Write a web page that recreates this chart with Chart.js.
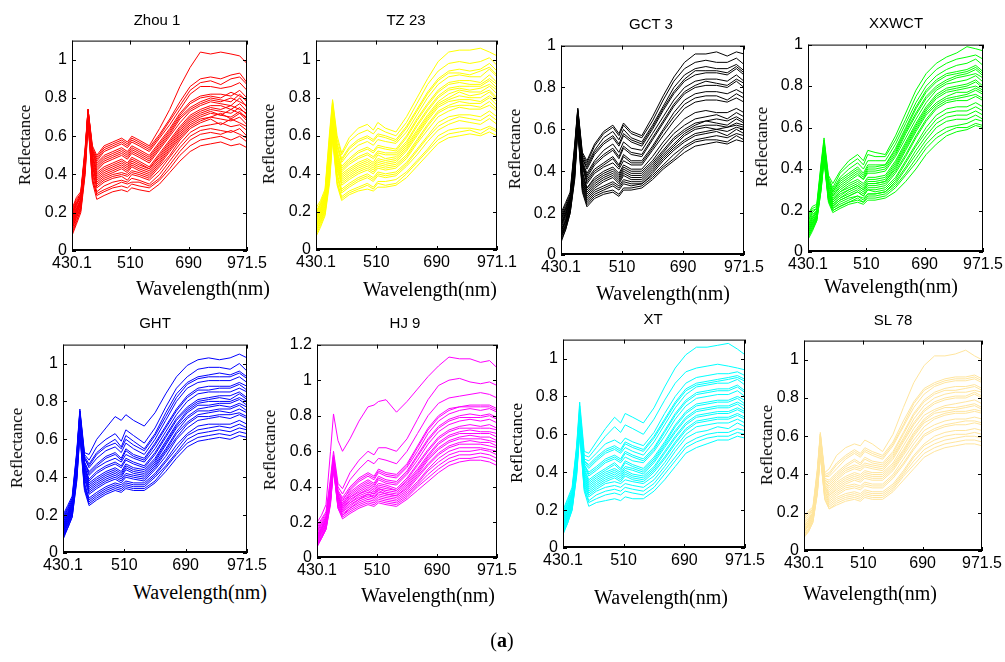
<!DOCTYPE html>
<html>
<head>
<meta charset="utf-8">
<script src="https://cdn.jsdelivr.net/npm/chart.js@4.4.1/dist/chart.umd.min.js"></script>
<style>
  body { margin: 0; background: #fff; width: 1005px; height: 662px; position: relative; overflow: hidden; }
  canvas { position: absolute; }
  .lbl { position: absolute; white-space: nowrap; transform: translate(-50%, -50%); color: #000; }
  .ttl { font-family: 'Liberation Sans', Arial, sans-serif; font-size: 15px; }
  .xl { font-family: 'Liberation Serif', 'Times New Roman', serif; font-size: 20px; }
  .yl { font-family: 'Liberation Serif', 'Times New Roman', serif; font-size: 17px; transform: translate(-50%, -50%) rotate(-90deg); }
  .cap { font-family: 'Liberation Serif', serif; font-size: 20px; }
</style>
</head>
<body>
<script>
// band positions of the sampled points (axis runs 0..120, ticks every 40 bands)
const bandPos = [0, 3, 6, 9, 11, 14, 17, 22, 28, 34, 38, 41, 46, 53, 60, 67, 74, 81, 88, 95, 102, 109, 115, 120];
const xTickVals = [0, 40, 80, 120];
const xLabelsA = ['430.1', '510', '690', '971.5'];
const xLabelsB = ['430.1', '510', '690', '971.1'];
const yTicks1 = [0, 0.2, 0.4, 0.6, 0.8, 1];
const yTicks2 = [0, 0.2, 0.4, 0.6, 0.8, 1, 1.2];
const names = ['Zhou 1', 'TZ 23', 'GCT 3', 'XXWCT', 'GHT', 'HJ 9', 'XT', 'SL 78'];
const yMax = [1.1, 1.1, 1, 1, 1.1, 1.2, 1.1, 1.1];

const zhou1 = [
  [0.08,0.14,0.2,0.4,0.66,0.36,0.27,0.29,0.31,0.32,0.31,0.33,0.32,0.31,0.35,0.41,0.47,0.52,0.55,0.56,0.57,0.55,0.56,0.54],
  [0.10,0.16,0.21,0.42,0.67,0.38,0.29,0.31,0.33,0.34,0.33,0.35,0.34,0.33,0.37,0.43,0.5,0.55,0.58,0.59,0.6,0.58,0.6,0.57],
  [0.09,0.15,0.22,0.41,0.67,0.37,0.3,0.32,0.34,0.36,0.35,0.36,0.36,0.34,0.38,0.45,0.52,0.58,0.61,0.62,0.61,0.63,0.61,0.59],
  [0.12,0.17,0.23,0.43,0.68,0.4,0.31,0.34,0.36,0.37,0.36,0.38,0.37,0.35,0.4,0.47,0.54,0.6,0.63,0.64,0.63,0.62,0.64,0.6],
  [0.11,0.18,0.22,0.44,0.7,0.42,0.33,0.36,0.38,0.39,0.37,0.4,0.39,0.37,0.42,0.49,0.56,0.62,0.65,0.66,0.67,0.65,0.66,0.63],
  [0.12,0.18,0.23,0.44,0.69,0.41,0.34,0.37,0.39,0.4,0.39,0.41,0.4,0.38,0.44,0.5,0.58,0.64,0.67,0.69,0.66,0.69,0.67,0.65],
  [0.13,0.19,0.24,0.45,0.7,0.44,0.35,0.38,0.4,0.41,0.4,0.42,0.41,0.39,0.45,0.52,0.59,0.65,0.68,0.7,0.69,0.68,0.7,0.66],
  [0.14,0.19,0.25,0.45,0.71,0.44,0.36,0.39,0.41,0.43,0.41,0.44,0.42,0.4,0.46,0.53,0.6,0.66,0.69,0.7,0.72,0.69,0.72,0.68],
  [0.14,0.2,0.25,0.46,0.71,0.45,0.37,0.4,0.42,0.44,0.42,0.45,0.43,0.41,0.47,0.54,0.61,0.67,0.7,0.72,0.71,0.7,0.73,0.69],
  [0.15,0.2,0.25,0.47,0.71,0.46,0.38,0.41,0.43,0.45,0.43,0.46,0.44,0.42,0.48,0.55,0.62,0.68,0.71,0.73,0.71,0.74,0.72,0.7],
  [0.15,0.21,0.26,0.47,0.72,0.47,0.39,0.42,0.44,0.46,0.44,0.47,0.45,0.43,0.49,0.56,0.63,0.69,0.72,0.74,0.73,0.72,0.75,0.71],
  [0.16,0.21,0.27,0.48,0.72,0.49,0.4,0.43,0.45,0.47,0.45,0.48,0.46,0.43,0.5,0.57,0.64,0.7,0.73,0.75,0.74,0.76,0.74,0.72],
  [0.16,0.22,0.26,0.48,0.72,0.48,0.41,0.44,0.46,0.48,0.46,0.49,0.47,0.44,0.51,0.58,0.65,0.71,0.74,0.76,0.76,0.74,0.77,0.73],
  [0.17,0.23,0.27,0.49,0.73,0.5,0.42,0.46,0.48,0.5,0.48,0.51,0.49,0.46,0.53,0.6,0.67,0.73,0.76,0.78,0.77,0.76,0.8,0.75],
  [0.17,0.22,0.27,0.49,0.73,0.49,0.43,0.47,0.49,0.51,0.49,0.52,0.5,0.47,0.54,0.61,0.69,0.74,0.77,0.79,0.78,0.8,0.78,0.76],
  [0.18,0.24,0.28,0.5,0.73,0.51,0.44,0.48,0.5,0.52,0.5,0.53,0.51,0.48,0.55,0.62,0.7,0.75,0.78,0.8,0.79,0.78,0.82,0.78],
  [0.19,0.24,0.29,0.51,0.73,0.52,0.45,0.49,0.51,0.53,0.51,0.54,0.52,0.49,0.56,0.63,0.71,0.77,0.8,0.81,0.8,0.83,0.81,0.79],
  [0.19,0.25,0.29,0.51,0.74,0.52,0.46,0.5,0.52,0.54,0.52,0.55,0.53,0.5,0.57,0.64,0.72,0.78,0.81,0.82,0.82,0.81,0.84,0.8],
  [0.2,0.26,0.3,0.52,0.74,0.53,0.47,0.52,0.54,0.56,0.54,0.57,0.55,0.52,0.59,0.66,0.74,0.82,0.86,0.86,0.85,0.86,0.88,0.84],
  [0.2,0.25,0.29,0.52,0.74,0.53,0.48,0.53,0.55,0.57,0.55,0.58,0.56,0.53,0.6,0.68,0.76,0.84,0.88,0.89,0.87,0.9,0.91,0.87],
  [0.21,0.27,0.3,0.53,0.74,0.54,0.49,0.54,0.56,0.58,0.56,0.59,0.57,0.54,0.61,0.69,0.78,0.86,0.9,0.91,0.9,0.92,0.93,0.88],
  [0.22,0.28,0.31,0.54,0.74,0.55,0.5,0.55,0.57,0.59,0.57,0.6,0.58,0.55,0.64,0.74,0.86,0.96,1.04,1.03,1.04,1.03,1.02,0.98]
];
const tz23 = [
  [0.07,0.12,0.18,0.35,0.58,0.34,0.26,0.29,0.31,0.32,0.31,0.33,0.33,0.34,0.38,0.44,0.5,0.56,0.59,0.6,0.61,0.6,0.62,0.6],
  [0.08,0.13,0.19,0.37,0.59,0.35,0.27,0.3,0.32,0.34,0.32,0.35,0.34,0.35,0.4,0.46,0.52,0.58,0.61,0.62,0.63,0.61,0.64,0.62],
  [0.09,0.14,0.2,0.38,0.6,0.36,0.28,0.31,0.33,0.35,0.33,0.36,0.36,0.37,0.41,0.47,0.53,0.6,0.63,0.64,0.64,0.63,0.65,0.63],
  [0.1,0.15,0.21,0.4,0.62,0.38,0.3,0.33,0.36,0.38,0.36,0.39,0.38,0.39,0.44,0.5,0.57,0.63,0.66,0.68,0.67,0.66,0.69,0.66],
  [0.1,0.15,0.21,0.41,0.63,0.39,0.31,0.34,0.37,0.39,0.37,0.4,0.39,0.4,0.45,0.52,0.59,0.65,0.68,0.7,0.69,0.68,0.71,0.68],
  [0.11,0.16,0.22,0.42,0.64,0.4,0.32,0.35,0.38,0.4,0.38,0.41,0.4,0.41,0.46,0.53,0.6,0.67,0.7,0.71,0.71,0.7,0.73,0.7],
  [0.12,0.17,0.23,0.44,0.66,0.42,0.34,0.37,0.4,0.42,0.4,0.43,0.42,0.43,0.48,0.56,0.63,0.7,0.73,0.75,0.74,0.74,0.76,0.73],
  [0.12,0.17,0.23,0.45,0.67,0.43,0.35,0.38,0.41,0.43,0.41,0.44,0.43,0.44,0.49,0.57,0.65,0.72,0.75,0.76,0.76,0.75,0.78,0.74],
  [0.13,0.18,0.24,0.46,0.68,0.44,0.36,0.39,0.42,0.44,0.42,0.45,0.44,0.45,0.5,0.58,0.66,0.73,0.76,0.78,0.77,0.77,0.8,0.76],
  [0.13,0.18,0.25,0.47,0.69,0.45,0.37,0.4,0.43,0.45,0.43,0.46,0.45,0.46,0.52,0.6,0.68,0.75,0.78,0.79,0.79,0.78,0.81,0.78],
  [0.14,0.19,0.25,0.48,0.7,0.46,0.38,0.41,0.44,0.46,0.44,0.47,0.46,0.47,0.53,0.61,0.69,0.76,0.79,0.81,0.8,0.8,0.83,0.79],
  [0.15,0.2,0.26,0.49,0.71,0.47,0.39,0.42,0.45,0.47,0.45,0.48,0.47,0.48,0.54,0.62,0.7,0.77,0.8,0.83,0.81,0.82,0.84,0.8],
  [0.15,0.2,0.26,0.5,0.72,0.48,0.4,0.43,0.46,0.48,0.46,0.5,0.48,0.49,0.55,0.63,0.71,0.78,0.82,0.84,0.83,0.83,0.86,0.82],
  [0.16,0.21,0.27,0.51,0.73,0.49,0.41,0.45,0.48,0.5,0.48,0.51,0.5,0.5,0.56,0.65,0.73,0.8,0.84,0.85,0.84,0.85,0.87,0.84],
  [0.16,0.21,0.27,0.52,0.74,0.5,0.42,0.46,0.49,0.51,0.49,0.52,0.51,0.51,0.57,0.66,0.74,0.81,0.85,0.86,0.86,0.86,0.89,0.85],
  [0.17,0.22,0.28,0.53,0.74,0.51,0.43,0.47,0.51,0.53,0.51,0.54,0.53,0.52,0.59,0.68,0.76,0.83,0.87,0.88,0.87,0.87,0.9,0.87],
  [0.17,0.22,0.28,0.54,0.75,0.52,0.44,0.48,0.52,0.54,0.52,0.55,0.54,0.53,0.6,0.69,0.77,0.84,0.88,0.89,0.89,0.88,0.92,0.88],
  [0.18,0.23,0.29,0.56,0.76,0.54,0.46,0.51,0.55,0.57,0.55,0.58,0.57,0.56,0.62,0.71,0.8,0.87,0.91,0.92,0.91,0.91,0.95,0.91],
  [0.19,0.24,0.3,0.57,0.76,0.55,0.47,0.53,0.57,0.59,0.57,0.6,0.59,0.57,0.64,0.73,0.82,0.89,0.93,0.93,0.92,0.94,0.96,0.92],
  [0.19,0.24,0.3,0.58,0.77,0.56,0.48,0.54,0.58,0.6,0.58,0.61,0.6,0.58,0.65,0.74,0.83,0.9,0.94,0.95,0.94,0.95,0.98,0.94],
  [0.2,0.25,0.31,0.6,0.78,0.58,0.5,0.57,0.61,0.63,0.61,0.64,0.62,0.6,0.67,0.77,0.87,0.94,0.98,0.99,0.98,0.99,1.01,0.97],
  [0.22,0.26,0.32,0.62,0.79,0.6,0.51,0.59,0.64,0.66,0.63,0.67,0.64,0.62,0.7,0.8,0.9,0.99,1.04,1.05,1.05,1.06,1.04,1.02]
];
const gct3 = [
  [0.06,0.12,0.2,0.36,0.6,0.3,0.23,0.27,0.29,0.3,0.28,0.31,0.31,0.32,0.36,0.41,0.45,0.49,0.52,0.53,0.54,0.53,0.55,0.54],
  [0.07,0.12,0.2,0.37,0.6,0.31,0.24,0.28,0.3,0.31,0.29,0.32,0.32,0.33,0.37,0.42,0.46,0.51,0.54,0.55,0.55,0.54,0.57,0.55],
  [0.08,0.13,0.21,0.38,0.61,0.32,0.25,0.29,0.31,0.33,0.31,0.34,0.33,0.34,0.38,0.43,0.48,0.52,0.55,0.56,0.57,0.56,0.58,0.57],
  [0.09,0.13,0.21,0.39,0.62,0.33,0.26,0.3,0.32,0.34,0.32,0.35,0.34,0.34,0.39,0.45,0.5,0.54,0.57,0.58,0.59,0.57,0.6,0.58],
  [0.09,0.14,0.22,0.4,0.62,0.34,0.27,0.31,0.33,0.35,0.33,0.36,0.35,0.35,0.4,0.46,0.51,0.55,0.58,0.59,0.6,0.59,0.61,0.6],
  [0.1,0.14,0.22,0.41,0.63,0.35,0.28,0.32,0.35,0.37,0.34,0.38,0.36,0.36,0.41,0.47,0.52,0.57,0.6,0.61,0.6,0.61,0.62,0.61],
  [0.1,0.15,0.23,0.42,0.63,0.36,0.29,0.33,0.36,0.38,0.35,0.39,0.37,0.37,0.42,0.48,0.53,0.58,0.61,0.62,0.62,0.61,0.63,0.62],
  [0.11,0.16,0.23,0.43,0.64,0.37,0.3,0.34,0.37,0.39,0.36,0.4,0.38,0.38,0.43,0.49,0.55,0.59,0.62,0.64,0.63,0.62,0.65,0.63],
  [0.11,0.16,0.24,0.43,0.64,0.38,0.31,0.35,0.38,0.4,0.37,0.41,0.39,0.39,0.44,0.5,0.56,0.6,0.63,0.64,0.65,0.64,0.66,0.64],
  [0.12,0.16,0.24,0.44,0.65,0.39,0.32,0.36,0.39,0.41,0.38,0.42,0.4,0.4,0.45,0.52,0.58,0.62,0.65,0.66,0.67,0.65,0.68,0.66],
  [0.12,0.17,0.24,0.45,0.65,0.4,0.32,0.37,0.4,0.42,0.39,0.43,0.41,0.41,0.47,0.54,0.6,0.65,0.68,0.69,0.68,0.68,0.7,0.68],
  [0.13,0.18,0.25,0.46,0.66,0.42,0.34,0.39,0.42,0.44,0.41,0.45,0.43,0.43,0.5,0.57,0.64,0.7,0.73,0.74,0.74,0.73,0.75,0.73],
  [0.14,0.19,0.25,0.47,0.67,0.43,0.35,0.4,0.43,0.46,0.42,0.47,0.44,0.44,0.51,0.59,0.66,0.72,0.75,0.76,0.76,0.74,0.77,0.75],
  [0.14,0.19,0.26,0.47,0.67,0.43,0.36,0.41,0.44,0.47,0.43,0.48,0.45,0.45,0.52,0.6,0.68,0.74,0.77,0.78,0.78,0.77,0.79,0.77],
  [0.15,0.2,0.26,0.48,0.68,0.44,0.37,0.43,0.47,0.5,0.46,0.51,0.48,0.47,0.55,0.63,0.71,0.77,0.8,0.81,0.81,0.8,0.83,0.8],
  [0.15,0.2,0.26,0.48,0.68,0.44,0.38,0.44,0.48,0.51,0.47,0.52,0.49,0.48,0.56,0.64,0.72,0.78,0.81,0.83,0.82,0.81,0.84,0.82],
  [0.16,0.21,0.27,0.49,0.68,0.45,0.39,0.45,0.5,0.53,0.49,0.54,0.51,0.5,0.58,0.66,0.74,0.8,0.83,0.84,0.84,0.83,0.86,0.83],
  [0.17,0.22,0.28,0.5,0.69,0.46,0.41,0.48,0.53,0.56,0.52,0.57,0.54,0.52,0.6,0.69,0.77,0.83,0.86,0.87,0.87,0.86,0.89,0.86],
  [0.17,0.22,0.27,0.5,0.69,0.46,0.42,0.49,0.54,0.57,0.53,0.58,0.55,0.53,0.61,0.7,0.78,0.84,0.88,0.88,0.88,0.87,0.9,0.87],
  [0.18,0.23,0.28,0.51,0.69,0.47,0.43,0.5,0.56,0.59,0.55,0.6,0.56,0.54,0.62,0.71,0.8,0.86,0.89,0.9,0.89,0.89,0.91,0.88],
  [0.19,0.24,0.29,0.52,0.7,0.48,0.44,0.52,0.58,0.61,0.57,0.62,0.58,0.56,0.64,0.74,0.83,0.89,0.92,0.93,0.92,0.92,0.94,0.91],
  [0.2,0.25,0.3,0.53,0.7,0.49,0.45,0.53,0.59,0.62,0.58,0.63,0.59,0.57,0.66,0.76,0.85,0.92,0.96,0.96,0.97,0.95,0.97,0.96]
];
const xxwct = [
  [0.06,0.1,0.15,0.3,0.44,0.24,0.19,0.21,0.23,0.24,0.23,0.25,0.25,0.26,0.29,0.34,0.4,0.47,0.52,0.56,0.58,0.59,0.61,0.6],
  [0.07,0.11,0.15,0.3,0.45,0.25,0.2,0.22,0.24,0.25,0.24,0.26,0.26,0.27,0.31,0.37,0.43,0.5,0.55,0.58,0.6,0.6,0.62,0.61],
  [0.07,0.11,0.16,0.31,0.45,0.25,0.2,0.22,0.24,0.26,0.24,0.27,0.27,0.28,0.32,0.38,0.45,0.52,0.57,0.6,0.61,0.62,0.64,0.63],
  [0.08,0.12,0.16,0.32,0.46,0.26,0.21,0.23,0.25,0.27,0.25,0.28,0.28,0.29,0.33,0.4,0.47,0.54,0.6,0.63,0.64,0.64,0.66,0.64],
  [0.08,0.12,0.16,0.32,0.46,0.26,0.21,0.24,0.26,0.27,0.26,0.28,0.28,0.29,0.34,0.41,0.49,0.56,0.62,0.65,0.66,0.66,0.68,0.66],
  [0.09,0.13,0.17,0.33,0.47,0.27,0.22,0.25,0.27,0.29,0.27,0.3,0.29,0.3,0.35,0.43,0.51,0.58,0.64,0.67,0.68,0.68,0.7,0.68],
  [0.09,0.13,0.17,0.33,0.47,0.27,0.22,0.25,0.27,0.29,0.27,0.3,0.3,0.31,0.36,0.44,0.52,0.6,0.66,0.69,0.7,0.7,0.72,0.7],
  [0.1,0.14,0.17,0.34,0.48,0.28,0.23,0.26,0.28,0.3,0.28,0.31,0.31,0.32,0.38,0.46,0.55,0.63,0.69,0.72,0.73,0.73,0.75,0.73],
  [0.1,0.14,0.17,0.34,0.48,0.28,0.23,0.26,0.29,0.31,0.29,0.32,0.32,0.33,0.39,0.47,0.56,0.64,0.7,0.73,0.74,0.75,0.76,0.74],
  [0.1,0.14,0.18,0.35,0.49,0.29,0.24,0.27,0.3,0.32,0.3,0.33,0.33,0.34,0.4,0.49,0.58,0.66,0.71,0.74,0.75,0.76,0.78,0.76],
  [0.11,0.15,0.18,0.35,0.49,0.29,0.24,0.28,0.3,0.32,0.3,0.33,0.33,0.34,0.41,0.5,0.59,0.67,0.72,0.75,0.77,0.77,0.79,0.77],
  [0.11,0.15,0.18,0.36,0.5,0.3,0.25,0.29,0.31,0.33,0.31,0.34,0.34,0.35,0.42,0.51,0.6,0.68,0.74,0.77,0.78,0.79,0.8,0.78],
  [0.12,0.16,0.19,0.36,0.5,0.3,0.25,0.29,0.32,0.34,0.32,0.35,0.35,0.36,0.43,0.52,0.61,0.69,0.75,0.78,0.79,0.8,0.82,0.79],
  [0.12,0.16,0.19,0.37,0.5,0.31,0.26,0.3,0.33,0.35,0.33,0.36,0.36,0.37,0.44,0.53,0.62,0.7,0.76,0.79,0.8,0.81,0.83,0.8],
  [0.13,0.17,0.19,0.38,0.51,0.32,0.27,0.31,0.34,0.37,0.35,0.38,0.38,0.39,0.46,0.55,0.64,0.72,0.78,0.81,0.82,0.83,0.85,0.82],
  [0.13,0.17,0.2,0.38,0.51,0.32,0.27,0.32,0.35,0.38,0.35,0.39,0.39,0.4,0.47,0.57,0.66,0.74,0.79,0.82,0.84,0.85,0.86,0.84],
  [0.14,0.18,0.2,0.39,0.52,0.33,0.28,0.33,0.36,0.39,0.36,0.4,0.4,0.41,0.48,0.58,0.67,0.75,0.8,0.83,0.85,0.86,0.88,0.85],
  [0.15,0.19,0.21,0.4,0.52,0.34,0.29,0.34,0.37,0.4,0.37,0.41,0.41,0.42,0.49,0.59,0.69,0.77,0.82,0.85,0.86,0.87,0.89,0.86],
  [0.15,0.19,0.21,0.4,0.53,0.34,0.29,0.35,0.38,0.41,0.38,0.42,0.42,0.42,0.5,0.6,0.7,0.78,0.83,0.86,0.87,0.88,0.9,0.87],
  [0.16,0.2,0.21,0.41,0.53,0.35,0.3,0.36,0.4,0.43,0.4,0.44,0.44,0.44,0.52,0.62,0.72,0.8,0.85,0.88,0.9,0.91,0.93,0.9],
  [0.17,0.21,0.22,0.42,0.54,0.36,0.31,0.38,0.42,0.45,0.42,0.47,0.46,0.46,0.54,0.64,0.75,0.83,0.88,0.91,0.93,0.94,0.95,0.93],
  [0.18,0.22,0.23,0.43,0.55,0.37,0.33,0.39,0.44,0.47,0.44,0.49,0.48,0.47,0.56,0.67,0.78,0.86,0.91,0.94,0.96,0.99,0.98,0.97]
];
const ght = [
  [0.07,0.13,0.19,0.38,0.62,0.33,0.25,0.28,0.31,0.33,0.32,0.34,0.33,0.33,0.37,0.43,0.5,0.56,0.59,0.6,0.61,0.6,0.62,0.61],
  [0.08,0.13,0.19,0.39,0.63,0.34,0.26,0.29,0.32,0.34,0.33,0.35,0.34,0.34,0.38,0.45,0.52,0.58,0.61,0.62,0.63,0.62,0.64,0.63],
  [0.08,0.14,0.2,0.4,0.64,0.35,0.27,0.3,0.33,0.35,0.34,0.36,0.35,0.35,0.4,0.46,0.53,0.6,0.63,0.64,0.65,0.64,0.66,0.65],
  [0.09,0.15,0.21,0.41,0.65,0.36,0.28,0.31,0.34,0.36,0.35,0.37,0.36,0.36,0.41,0.48,0.55,0.62,0.65,0.66,0.67,0.66,0.68,0.66],
  [0.09,0.15,0.21,0.42,0.66,0.37,0.29,0.32,0.35,0.37,0.36,0.38,0.37,0.37,0.42,0.49,0.57,0.63,0.67,0.68,0.68,0.68,0.7,0.68],
  [0.1,0.16,0.22,0.44,0.67,0.39,0.31,0.34,0.37,0.39,0.37,0.4,0.39,0.38,0.44,0.51,0.6,0.66,0.7,0.71,0.72,0.71,0.73,0.71],
  [0.11,0.16,0.22,0.44,0.67,0.4,0.32,0.35,0.38,0.4,0.38,0.41,0.4,0.39,0.45,0.53,0.61,0.68,0.72,0.72,0.73,0.73,0.74,0.72],
  [0.11,0.17,0.23,0.45,0.68,0.41,0.33,0.36,0.39,0.41,0.39,0.42,0.41,0.4,0.46,0.54,0.63,0.69,0.73,0.74,0.75,0.74,0.76,0.74],
  [0.12,0.17,0.23,0.45,0.68,0.42,0.34,0.37,0.4,0.42,0.4,0.44,0.42,0.41,0.47,0.55,0.64,0.71,0.75,0.75,0.76,0.76,0.78,0.75],
  [0.12,0.18,0.24,0.46,0.69,0.43,0.35,0.38,0.41,0.43,0.41,0.45,0.43,0.42,0.48,0.57,0.66,0.72,0.76,0.77,0.78,0.77,0.79,0.77],
  [0.13,0.18,0.24,0.47,0.7,0.44,0.36,0.39,0.42,0.44,0.42,0.46,0.44,0.43,0.49,0.58,0.67,0.74,0.78,0.78,0.79,0.79,0.81,0.78],
  [0.13,0.19,0.25,0.47,0.7,0.45,0.37,0.4,0.43,0.45,0.43,0.47,0.45,0.44,0.5,0.59,0.68,0.75,0.79,0.8,0.8,0.8,0.82,0.8],
  [0.14,0.19,0.25,0.48,0.71,0.46,0.38,0.42,0.45,0.47,0.45,0.49,0.47,0.45,0.52,0.61,0.7,0.76,0.8,0.81,0.82,0.81,0.84,0.81],
  [0.14,0.2,0.25,0.48,0.71,0.46,0.39,0.43,0.46,0.48,0.46,0.5,0.48,0.46,0.53,0.62,0.71,0.77,0.81,0.82,0.83,0.83,0.85,0.82],
  [0.15,0.2,0.26,0.49,0.72,0.47,0.41,0.45,0.48,0.5,0.48,0.52,0.5,0.48,0.55,0.64,0.73,0.8,0.84,0.85,0.85,0.85,0.87,0.85],
  [0.16,0.21,0.26,0.5,0.72,0.48,0.42,0.46,0.5,0.52,0.49,0.54,0.51,0.49,0.57,0.66,0.75,0.82,0.86,0.86,0.87,0.87,0.89,0.86],
  [0.16,0.21,0.27,0.5,0.73,0.48,0.43,0.47,0.51,0.53,0.5,0.55,0.52,0.5,0.58,0.67,0.76,0.83,0.87,0.88,0.88,0.88,0.9,0.88],
  [0.17,0.22,0.27,0.51,0.74,0.5,0.45,0.5,0.54,0.56,0.53,0.58,0.55,0.52,0.6,0.7,0.8,0.87,0.9,0.91,0.91,0.91,0.93,0.9],
  [0.18,0.23,0.28,0.52,0.74,0.5,0.46,0.52,0.56,0.58,0.55,0.6,0.57,0.54,0.62,0.72,0.82,0.89,0.92,0.93,0.93,0.93,0.95,0.92],
  [0.18,0.23,0.28,0.52,0.75,0.51,0.47,0.53,0.57,0.6,0.56,0.62,0.59,0.55,0.63,0.74,0.84,0.9,0.93,0.94,0.95,0.94,0.96,0.93],
  [0.19,0.24,0.29,0.53,0.75,0.52,0.49,0.56,0.6,0.63,0.59,0.65,0.62,0.58,0.66,0.77,0.87,0.93,0.97,0.98,0.98,0.97,1.0,0.96],
  [0.2,0.25,0.3,0.54,0.76,0.53,0.52,0.6,0.66,0.72,0.7,0.73,0.7,0.67,0.74,0.84,0.93,0.99,1.02,1.03,1.02,1.03,1.05,1.03]
];
const hj9 = [
  [0.06,0.11,0.16,0.3,0.5,0.28,0.22,0.25,0.28,0.3,0.29,0.31,0.3,0.29,0.33,0.38,0.43,0.48,0.52,0.54,0.55,0.55,0.54,0.52],
  [0.07,0.11,0.16,0.31,0.5,0.28,0.23,0.26,0.29,0.31,0.3,0.32,0.31,0.3,0.34,0.4,0.45,0.5,0.54,0.56,0.56,0.57,0.56,0.54],
  [0.07,0.12,0.17,0.32,0.51,0.29,0.24,0.27,0.3,0.32,0.31,0.33,0.32,0.31,0.35,0.41,0.47,0.52,0.56,0.58,0.58,0.59,0.58,0.56],
  [0.08,0.12,0.17,0.32,0.51,0.29,0.24,0.28,0.31,0.33,0.32,0.34,0.33,0.32,0.36,0.42,0.49,0.54,0.58,0.6,0.6,0.61,0.6,0.58],
  [0.08,0.13,0.18,0.33,0.52,0.3,0.25,0.28,0.32,0.34,0.33,0.35,0.34,0.33,0.37,0.43,0.5,0.56,0.6,0.62,0.62,0.62,0.61,0.6],
  [0.09,0.14,0.18,0.34,0.53,0.31,0.26,0.29,0.33,0.35,0.34,0.36,0.35,0.34,0.38,0.45,0.52,0.58,0.62,0.64,0.64,0.64,0.63,0.62],
  [0.09,0.14,0.19,0.34,0.53,0.31,0.26,0.3,0.33,0.36,0.34,0.37,0.36,0.35,0.39,0.46,0.53,0.59,0.63,0.65,0.66,0.65,0.65,0.63],
  [0.1,0.15,0.19,0.35,0.54,0.32,0.27,0.31,0.34,0.36,0.35,0.38,0.36,0.35,0.4,0.47,0.55,0.61,0.65,0.67,0.67,0.67,0.66,0.65],
  [0.1,0.15,0.19,0.35,0.54,0.32,0.27,0.31,0.35,0.37,0.36,0.39,0.37,0.36,0.41,0.48,0.56,0.62,0.66,0.68,0.69,0.68,0.68,0.66],
  [0.11,0.16,0.2,0.36,0.55,0.33,0.28,0.32,0.36,0.38,0.36,0.39,0.38,0.37,0.42,0.49,0.57,0.64,0.68,0.7,0.7,0.7,0.7,0.68],
  [0.11,0.16,0.2,0.36,0.55,0.33,0.28,0.33,0.36,0.39,0.37,0.4,0.39,0.38,0.43,0.5,0.58,0.65,0.69,0.71,0.72,0.71,0.71,0.7],
  [0.12,0.16,0.21,0.37,0.55,0.34,0.29,0.34,0.37,0.4,0.38,0.41,0.4,0.38,0.44,0.52,0.6,0.67,0.71,0.73,0.73,0.73,0.73,0.72],
  [0.12,0.17,0.21,0.37,0.55,0.34,0.29,0.34,0.38,0.41,0.39,0.42,0.41,0.39,0.45,0.53,0.61,0.68,0.72,0.74,0.75,0.74,0.75,0.73],
  [0.13,0.17,0.22,0.38,0.56,0.35,0.3,0.35,0.39,0.42,0.4,0.44,0.42,0.41,0.47,0.55,0.64,0.71,0.75,0.77,0.78,0.77,0.78,0.76],
  [0.13,0.17,0.22,0.38,0.56,0.35,0.3,0.36,0.4,0.43,0.41,0.45,0.43,0.42,0.48,0.57,0.66,0.73,0.77,0.79,0.79,0.79,0.8,0.78],
  [0.14,0.18,0.22,0.39,0.56,0.36,0.31,0.37,0.41,0.44,0.42,0.46,0.44,0.43,0.49,0.58,0.67,0.74,0.78,0.8,0.81,0.8,0.81,0.79],
  [0.15,0.19,0.23,0.4,0.57,0.37,0.32,0.39,0.44,0.47,0.45,0.49,0.47,0.46,0.52,0.62,0.72,0.79,0.83,0.85,0.85,0.85,0.85,0.83],
  [0.15,0.19,0.23,0.4,0.57,0.37,0.33,0.38,0.43,0.46,0.44,0.48,0.46,0.45,0.51,0.6,0.7,0.77,0.81,0.83,0.84,0.83,0.84,0.82],
  [0.16,0.2,0.24,0.41,0.57,0.38,0.34,0.4,0.45,0.48,0.46,0.5,0.48,0.47,0.53,0.63,0.73,0.8,0.84,0.85,0.86,0.86,0.86,0.84],
  [0.17,0.21,0.25,0.43,0.58,0.4,0.36,0.44,0.5,0.55,0.53,0.56,0.55,0.53,0.6,0.7,0.8,0.87,0.9,0.91,0.92,0.93,0.92,0.9],
  [0.18,0.22,0.26,0.45,0.6,0.42,0.39,0.48,0.55,0.6,0.58,0.62,0.62,0.6,0.67,0.78,0.89,0.97,1.0,1.01,0.99,0.98,0.99,0.97],
  [0.2,0.24,0.3,0.6,0.81,0.66,0.6,0.67,0.77,0.85,0.86,0.88,0.89,0.82,0.88,0.95,1.02,1.08,1.13,1.12,1.12,1.1,1.11,1.07]
];
const xt = [
  [0.07,0.13,0.2,0.38,0.6,0.3,0.22,0.24,0.25,0.26,0.25,0.27,0.26,0.26,0.3,0.36,0.43,0.5,0.53,0.55,0.57,0.57,0.59,0.58],
  [0.08,0.13,0.2,0.39,0.61,0.31,0.24,0.26,0.28,0.29,0.28,0.3,0.29,0.28,0.32,0.39,0.46,0.53,0.56,0.58,0.59,0.59,0.61,0.6],
  [0.08,0.14,0.21,0.4,0.62,0.32,0.25,0.28,0.3,0.31,0.3,0.32,0.31,0.3,0.34,0.41,0.48,0.55,0.58,0.6,0.61,0.61,0.63,0.62],
  [0.09,0.15,0.22,0.41,0.63,0.33,0.27,0.3,0.32,0.33,0.32,0.34,0.33,0.32,0.36,0.43,0.51,0.58,0.61,0.62,0.64,0.63,0.66,0.64],
  [0.09,0.15,0.22,0.42,0.64,0.34,0.28,0.31,0.34,0.35,0.34,0.36,0.35,0.34,0.38,0.45,0.53,0.6,0.64,0.65,0.66,0.66,0.68,0.66],
  [0.1,0.16,0.23,0.43,0.65,0.35,0.29,0.32,0.35,0.37,0.35,0.38,0.36,0.35,0.4,0.47,0.55,0.62,0.66,0.67,0.68,0.68,0.7,0.68],
  [0.1,0.16,0.23,0.44,0.65,0.36,0.3,0.33,0.36,0.38,0.36,0.39,0.37,0.36,0.41,0.48,0.56,0.63,0.67,0.68,0.69,0.69,0.71,0.69],
  [0.11,0.17,0.24,0.45,0.66,0.37,0.31,0.34,0.37,0.39,0.37,0.4,0.38,0.37,0.42,0.5,0.58,0.65,0.69,0.7,0.71,0.71,0.73,0.71],
  [0.11,0.17,0.24,0.45,0.66,0.38,0.32,0.35,0.38,0.4,0.38,0.41,0.39,0.38,0.43,0.51,0.59,0.66,0.7,0.71,0.72,0.72,0.74,0.72],
  [0.12,0.18,0.25,0.46,0.67,0.39,0.33,0.36,0.39,0.41,0.39,0.42,0.41,0.39,0.45,0.53,0.61,0.68,0.72,0.73,0.74,0.74,0.76,0.73],
  [0.12,0.18,0.25,0.46,0.67,0.4,0.34,0.37,0.4,0.42,0.4,0.43,0.42,0.4,0.46,0.54,0.62,0.69,0.73,0.74,0.75,0.75,0.77,0.75],
  [0.13,0.19,0.26,0.47,0.68,0.41,0.35,0.38,0.41,0.44,0.41,0.45,0.43,0.41,0.47,0.55,0.64,0.71,0.75,0.76,0.77,0.77,0.79,0.76],
  [0.13,0.19,0.26,0.47,0.68,0.42,0.36,0.39,0.42,0.45,0.42,0.46,0.44,0.42,0.48,0.56,0.65,0.72,0.76,0.77,0.78,0.78,0.8,0.78],
  [0.14,0.2,0.27,0.48,0.69,0.43,0.38,0.41,0.45,0.47,0.45,0.48,0.46,0.45,0.51,0.59,0.68,0.75,0.79,0.8,0.81,0.81,0.83,0.8],
  [0.15,0.21,0.27,0.49,0.7,0.44,0.39,0.42,0.46,0.48,0.46,0.5,0.48,0.46,0.52,0.61,0.7,0.77,0.81,0.82,0.83,0.83,0.85,0.82],
  [0.15,0.21,0.27,0.49,0.7,0.44,0.4,0.43,0.47,0.49,0.47,0.51,0.49,0.47,0.53,0.62,0.71,0.78,0.82,0.83,0.84,0.84,0.86,0.83],
  [0.16,0.22,0.28,0.5,0.71,0.45,0.42,0.46,0.5,0.52,0.5,0.53,0.51,0.49,0.56,0.65,0.74,0.81,0.85,0.86,0.87,0.87,0.89,0.86],
  [0.17,0.23,0.29,0.51,0.72,0.46,0.43,0.47,0.51,0.53,0.51,0.55,0.53,0.51,0.58,0.67,0.76,0.83,0.86,0.87,0.88,0.89,0.9,0.88],
  [0.17,0.23,0.29,0.51,0.72,0.46,0.44,0.48,0.52,0.54,0.52,0.56,0.54,0.52,0.59,0.68,0.77,0.84,0.87,0.88,0.89,0.9,0.91,0.89],
  [0.18,0.24,0.3,0.52,0.73,0.47,0.46,0.5,0.55,0.57,0.55,0.58,0.56,0.54,0.61,0.71,0.8,0.87,0.9,0.91,0.92,0.92,0.93,0.91],
  [0.19,0.25,0.31,0.53,0.75,0.49,0.48,0.53,0.59,0.64,0.61,0.65,0.63,0.6,0.68,0.78,0.87,0.93,0.95,0.96,0.97,0.96,0.95,0.94],
  [0.2,0.26,0.32,0.54,0.77,0.51,0.5,0.56,0.63,0.69,0.66,0.71,0.69,0.66,0.74,0.85,0.95,1.02,1.06,1.06,1.07,1.08,1.05,1.02]
];
const sl78 = [
  [0.07,0.1,0.15,0.3,0.5,0.27,0.22,0.24,0.26,0.27,0.26,0.28,0.27,0.27,0.31,0.37,0.43,0.49,0.52,0.54,0.55,0.56,0.56,0.55],
  [0.08,0.1,0.15,0.3,0.5,0.27,0.22,0.25,0.27,0.28,0.27,0.29,0.28,0.28,0.32,0.39,0.45,0.51,0.54,0.56,0.57,0.58,0.58,0.57],
  [0.08,0.11,0.16,0.31,0.51,0.28,0.23,0.26,0.28,0.29,0.28,0.3,0.29,0.29,0.33,0.4,0.47,0.53,0.56,0.58,0.59,0.6,0.6,0.59],
  [0.09,0.11,0.16,0.31,0.51,0.29,0.24,0.27,0.29,0.3,0.29,0.31,0.3,0.3,0.34,0.41,0.49,0.55,0.58,0.6,0.61,0.61,0.62,0.61],
  [0.09,0.12,0.17,0.32,0.52,0.3,0.25,0.28,0.3,0.31,0.3,0.32,0.31,0.31,0.35,0.42,0.5,0.56,0.6,0.62,0.63,0.63,0.64,0.63],
  [0.1,0.13,0.17,0.33,0.53,0.31,0.26,0.29,0.32,0.33,0.32,0.34,0.33,0.33,0.38,0.45,0.53,0.6,0.63,0.65,0.66,0.66,0.67,0.66],
  [0.1,0.13,0.17,0.33,0.53,0.31,0.27,0.3,0.33,0.34,0.33,0.35,0.34,0.34,0.39,0.46,0.54,0.61,0.64,0.66,0.67,0.68,0.68,0.67],
  [0.1,0.14,0.18,0.34,0.54,0.32,0.28,0.31,0.34,0.35,0.34,0.36,0.35,0.35,0.4,0.48,0.56,0.63,0.66,0.68,0.69,0.69,0.7,0.69],
  [0.11,0.14,0.18,0.35,0.55,0.33,0.29,0.32,0.35,0.37,0.36,0.38,0.37,0.37,0.42,0.5,0.58,0.65,0.69,0.71,0.72,0.72,0.73,0.72],
  [0.11,0.14,0.18,0.35,0.55,0.33,0.29,0.33,0.36,0.38,0.37,0.39,0.38,0.38,0.43,0.51,0.6,0.67,0.7,0.72,0.73,0.73,0.74,0.73],
  [0.12,0.15,0.19,0.36,0.56,0.34,0.3,0.34,0.37,0.39,0.38,0.4,0.39,0.39,0.44,0.52,0.61,0.68,0.72,0.73,0.74,0.75,0.76,0.74],
  [0.12,0.15,0.19,0.36,0.56,0.34,0.31,0.35,0.38,0.4,0.39,0.41,0.4,0.4,0.45,0.53,0.62,0.69,0.73,0.75,0.75,0.76,0.77,0.75],
  [0.13,0.16,0.19,0.37,0.57,0.35,0.32,0.36,0.39,0.41,0.4,0.42,0.41,0.41,0.46,0.55,0.64,0.71,0.74,0.76,0.77,0.78,0.79,0.77],
  [0.14,0.16,0.2,0.38,0.58,0.36,0.33,0.37,0.41,0.43,0.42,0.44,0.43,0.42,0.48,0.57,0.66,0.73,0.77,0.79,0.8,0.8,0.82,0.8],
  [0.13,0.16,0.2,0.38,0.58,0.36,0.34,0.38,0.42,0.44,0.43,0.45,0.44,0.43,0.49,0.58,0.67,0.74,0.78,0.8,0.81,0.81,0.83,0.81],
  [0.15,0.17,0.2,0.39,0.59,0.37,0.35,0.39,0.43,0.45,0.44,0.46,0.45,0.44,0.5,0.59,0.69,0.76,0.8,0.82,0.83,0.83,0.84,0.83],
  [0.15,0.17,0.2,0.39,0.59,0.37,0.36,0.4,0.44,0.47,0.45,0.48,0.46,0.45,0.51,0.61,0.71,0.78,0.82,0.84,0.84,0.85,0.86,0.84],
  [0.16,0.18,0.21,0.4,0.6,0.38,0.37,0.41,0.45,0.48,0.46,0.49,0.47,0.46,0.52,0.62,0.72,0.79,0.83,0.85,0.86,0.86,0.87,0.85],
  [0.17,0.19,0.22,0.41,0.61,0.39,0.39,0.43,0.48,0.51,0.49,0.52,0.5,0.48,0.55,0.65,0.75,0.82,0.86,0.88,0.89,0.89,0.9,0.88],
  [0.17,0.19,0.22,0.41,0.61,0.39,0.4,0.45,0.49,0.52,0.5,0.53,0.51,0.49,0.56,0.66,0.77,0.84,0.87,0.89,0.9,0.9,0.91,0.89],
  [0.18,0.2,0.22,0.42,0.61,0.4,0.41,0.46,0.5,0.53,0.51,0.54,0.52,0.5,0.57,0.68,0.78,0.85,0.88,0.9,0.91,0.91,0.92,0.9],
  [0.18,0.21,0.23,0.43,0.62,0.41,0.43,0.5,0.54,0.56,0.55,0.58,0.56,0.52,0.61,0.75,0.88,0.97,1.02,1.02,1.03,1.05,1.02,1.0]
];

const curves = [zhou1, tz23, gct3, xxwct, ght, hj9, xt, sl78];
const xLabels = [xLabelsA, xLabelsB, xLabelsA, xLabelsA, xLabelsA, xLabelsA, xLabelsA, xLabelsA];
const yTicks = [yTicks1, yTicks1, yTicks1, yTicks1, yTicks1, yTicks2, yTicks1, yTicks1];
const colors = ['#ff0000', '#ffff00', '#000000', '#00ff00', '#0000ff', '#ff00ff', '#00ffff', '#ffe59e'];

// plot boxes and label spots in page pixels
const layout = [
  { l: 72,  t: 38,  r: 247, b: 251, title: [157, 19],  yl: 25,  xl: [203, 288] },
  { l: 316, t: 38,  r: 497, b: 250, title: [406, 19],  yl: 269, xl: [430, 289] },
  { l: 561, t: 43,  r: 744, b: 255, title: [651, 23],  yl: 515, xl: [663, 293] },
  { l: 808, t: 42,  r: 983, b: 252, title: [896, 22],  yl: 762, xl: [891, 286] },
  { l: 63,  t: 342, r: 247, b: 553, title: [155, 322], yl: 17,  xl: [200, 592] },
  { l: 317, t: 342, r: 497, b: 558, title: [405, 322], yl: 270, xl: [428, 595] },
  { l: 563, t: 337, r: 745, b: 548, title: [653, 318], yl: 517, xl: [661, 597] },
  { l: 804, t: 338, r: 982, b: 551, title: [893, 319], yl: 767, xl: [870, 593] }
];

Chart.defaults.font.family = "'Liberation Sans', Arial, sans-serif";
Chart.defaults.color = '#000';

// matlab style box with inward ticks on all four sides
const boxPlugin = {
  id: 'box',
  afterDatasetsDraw(chart) {
    const { ctx, chartArea: a, scales: { x, y } } = chart;
    ctx.save();
    ctx.strokeStyle = '#000';
    ctx.lineWidth = 1;
    ctx.strokeRect(a.left + 0.5, a.top + 0.5, a.width - 1, a.height - 1);
    ctx.beginPath();
    x.ticks.forEach(t => {
      const px = Math.round(x.getPixelForValue(t.value)) + 0.5;
      ctx.moveTo(px, a.bottom); ctx.lineTo(px, a.bottom - 4);
      ctx.moveTo(px, a.top); ctx.lineTo(px, a.top + 4);
    });
    y.ticks.forEach(t => {
      const py = Math.round(y.getPixelForValue(t.value)) + 0.5;
      ctx.moveTo(a.left, py); ctx.lineTo(a.left + 4, py);
      ctx.moveTo(a.right, py); ctx.lineTo(a.right - 4, py);
    });
    ctx.stroke();
    ctx.lineWidth = 2;
    ctx.beginPath();
    ctx.moveTo(a.left, a.bottom - 1); ctx.lineTo(a.right, a.bottom - 1);
    ctx.stroke();
    ctx.restore();
  }
};

function addText(cls, txt, x, y) {
  const d = document.createElement('div');
  d.className = 'lbl ' + cls;
  d.textContent = txt;
  d.style.left = x + 'px';
  d.style.top = y + 'px';
  document.body.appendChild(d);
}

function buildPanel(k) {
  const L = layout[k];
  const padL = 45, padT = 12, padR = 28, padB = 26;
  const cv = document.createElement('canvas');
  cv.width = L.r - L.l + padL + padR;
  cv.height = L.b - L.t + padT + padB;
  cv.style.left = (L.l - padL) + 'px';
  cv.style.top = (L.t - padT) + 'px';
  document.body.appendChild(cv);

  new Chart(cv, {
    type: 'line',
    data: {
      datasets: curves[k].map(c => ({
        data: c.map((v, i) => ({ x: bandPos[i], y: v })),
        borderColor: colors[k],
        borderWidth: 1,
        pointRadius: 0,
        fill: false
      }))
    },
    options: {
      responsive: false,
      animation: false,
      layout: { padding: { left: 0, top: padT, right: padR, bottom: 0 } },
      plugins: { legend: { display: false }, tooltip: { enabled: false } },
      scales: {
        x: {
          type: 'linear', min: 0, max: 120,
          grid: { display: false, drawTicks: false },
          border: { display: false },
          afterBuildTicks: s => { s.ticks = xTickVals.map(v => ({ value: v })); },
          afterFit: s => { s.height = padB; },
          ticks: {
            autoSkip: false, maxRotation: 0, padding: 3,
            font: { size: 16 },
            callback: (v, i) => xLabels[k][i]
          }
        },
        y: {
          type: 'linear', min: 0, max: yMax[k],
          grid: { display: false, drawTicks: false },
          border: { display: false },
          afterBuildTicks: s => { s.ticks = yTicks[k].map(v => ({ value: v })); },
          afterFit: s => { s.width = padL; },
          ticks: { padding: 5, font: { size: 16 }, callback: v => String(v) }
        }
      }
    },
    plugins: [boxPlugin]
  });

  addText('ttl', names[k], L.title[0], L.title[1]);
  addText('yl', 'Reflectance', L.yl, (L.t + L.b) / 2);
  addText('xl', 'Wavelength(nm)', L.xl[0], L.xl[1]);
}

for (let k = 0; k < 8; k++) buildPanel(k);

const cap = document.createElement('div');
cap.className = 'lbl cap';
cap.innerHTML = '(<b>a</b>)';
cap.style.left = '502px';
cap.style.top = '640px';
document.body.appendChild(cap);
</script>
</body>
</html>
